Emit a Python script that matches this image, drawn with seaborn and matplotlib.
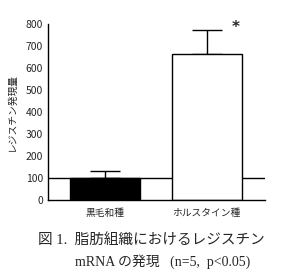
import matplotlib
matplotlib.use("Agg")
import matplotlib.pyplot as plt
import seaborn as sns
import pandas as pd

categories = ["黒毛和種", "ホルスタイン種"]
values = [100, 663]
errors = [32, 110]
bar_colors = ["#000000", "#ffffff"]
yticks = [0, 100, 200, 300, 400, 500, 600, 700, 800]
ylabel = "レジスチン発現量"
ref_value = 100
caption1 = "図 1.  脂肪組織におけるレジスチン"
caption2 = "mRNA の発現   (n=5,  p<0.05)"

sns.set_style("white")
plt.rcParams['font.family'] = ['Noto Sans CJK JP', 'DejaVu Sans']

df = pd.DataFrame({"cat": categories, "val": values})

fig = plt.figure(figsize=(2.88, 2.75), dpi=100)
ax = fig.add_axes([0.168, 0.2727, 0.752, 0.64])

ax.axhline(ref_value, color="black", lw=1.0, zorder=0)
sns.barplot(data=df, x="cat", y="val", hue="cat", palette=bar_colors,
            edgecolor="black", linewidth=1.0, width=0.686, ax=ax,
            legend=False, zorder=2)
ax.errorbar([0, 1], values, yerr=[[0, 0], errors], fmt="none",
            ecolor="black", elinewidth=1.0, capsize=11, capthick=1.0, zorder=1)

ax.text(1.28, values[1] + errors[1] + 10, "*", ha="center", va="center",
        fontsize=11, fontweight="bold", family=["DejaVu Sans"])

ax.set_xlim(-0.554, 1.57)
ax.set_ylim(0, 800)
ax.set_yticks(yticks)
ax.set_yticklabels([str(t) for t in yticks], fontsize=7.5)
ax.tick_params(axis="both", length=0, pad=4)
ax.tick_params(axis="x", labelsize=7, pad=6)
ax.set_xlabel("")
ax.set_ylabel(ylabel, fontsize=7, labelpad=6)
for s in ["top", "right"]:
    ax.spines[s].set_visible(False)
for s in ["left", "bottom"]:
    ax.spines[s].set_color("black")
    ax.spines[s].set_linewidth(1.0)

fig.text(0.524, 0.128, caption1, ha="center", va="center", fontsize=10.5,
         family=["Liberation Serif", "Noto Sans CJK JP"])
fig.text(0.563, 0.047, caption2, ha="center", va="center", fontsize=10,
         family=["Liberation Serif", "Noto Sans CJK JP"])

fig.savefig("out.png", dpi=100)
